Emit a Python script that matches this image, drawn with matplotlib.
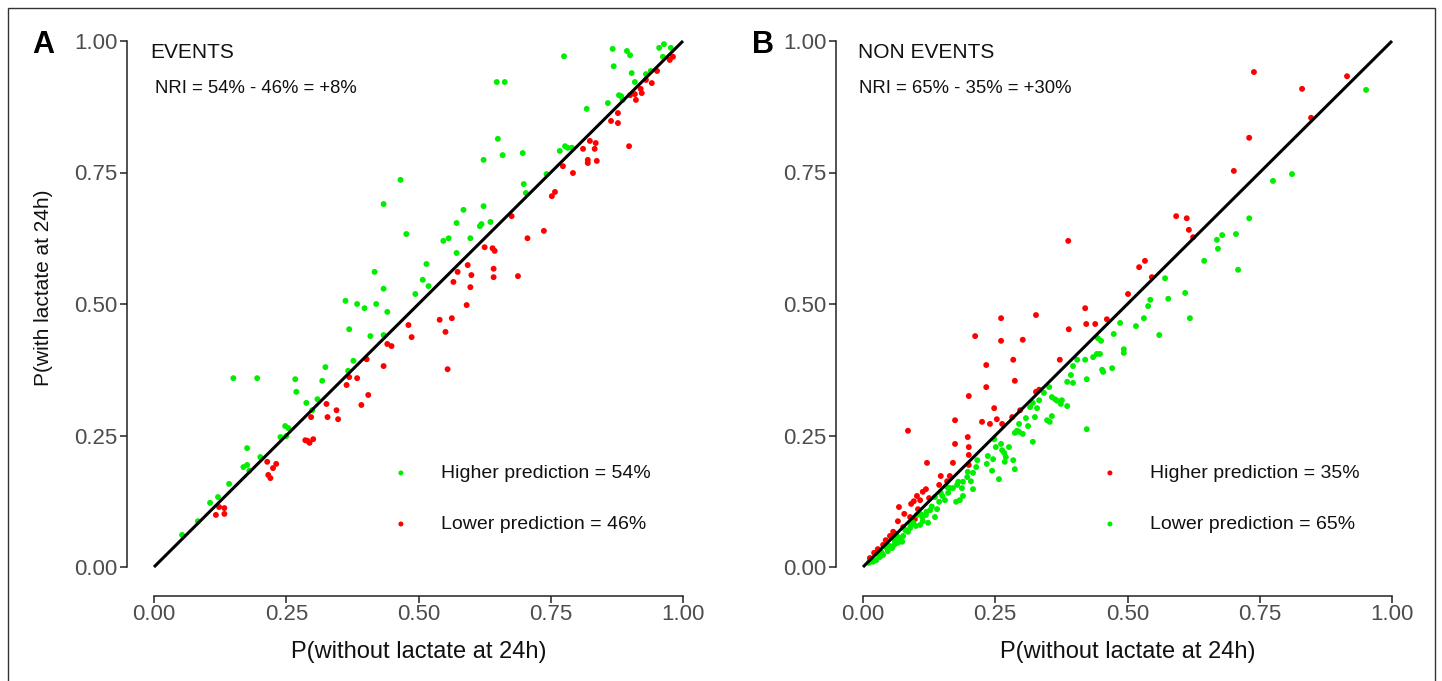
import matplotlib
matplotlib.use('Agg')
import matplotlib.pyplot as plt
from matplotlib.patches import Rectangle

plt.rcParams['font.family'] = ['Liberation Sans', 'DejaVu Sans']

GREEN = '#00EE00'
RED = '#FF0000'
GREY = '#4d4d4d'

ticks = [0.00, 0.25, 0.50, 0.75, 1.00]
tick_labels = ['0.00', '0.25', '0.50', '0.75', '1.00']
diag = [0.0, 1.0]

# ---------------- Panel A: EVENTS ----------------
a_green_x = [0.053, 0.083, 0.106, 0.121, 0.142, 0.150, 0.195, 0.169, 0.176, 0.176,
             0.180, 0.201, 0.239, 0.248, 0.254, 0.250, 0.267, 0.269, 0.288, 0.299,
             0.309, 0.318, 0.324, 0.362, 0.369, 0.377, 0.367, 0.384, 0.398, 0.409,
             0.420, 0.434, 0.441, 0.434, 0.417, 0.434, 0.466, 0.477, 0.494, 0.508,
             0.519, 0.515, 0.547, 0.557, 0.572, 0.585, 0.572, 0.598, 0.616, 0.619,
             0.623, 0.636, 0.623, 0.650, 0.659, 0.648, 0.663, 0.697, 0.699, 0.703,
             0.742, 0.767, 0.777, 0.782, 0.790, 0.775, 0.818, 0.858, 0.867, 0.869,
             0.879, 0.883, 0.886, 0.894, 0.900, 0.903, 0.909, 0.930, 0.939, 0.955,
             0.964, 0.977, 0.962]
a_green_y = [0.061, 0.087, 0.122, 0.133, 0.158, 0.359, 0.359, 0.190, 0.194, 0.226,
             0.183, 0.209, 0.247, 0.268, 0.264, 0.249, 0.357, 0.333, 0.312, 0.298,
             0.319, 0.354, 0.380, 0.506, 0.452, 0.392, 0.373, 0.500, 0.492, 0.439,
             0.500, 0.529, 0.485, 0.441, 0.561, 0.690, 0.736, 0.633, 0.519, 0.546,
             0.534, 0.576, 0.620, 0.625, 0.654, 0.679, 0.597, 0.625, 0.648, 0.652,
             0.686, 0.656, 0.774, 0.814, 0.783, 0.922, 0.922, 0.787, 0.728, 0.711,
             0.747, 0.791, 0.800, 0.797, 0.797, 0.971, 0.871, 0.882, 0.985, 0.952,
             0.897, 0.895, 0.888, 0.981, 0.973, 0.939, 0.922, 0.937, 0.943, 0.987,
             0.994, 0.987, 0.970]

a_red_x = [0.117, 0.123, 0.133, 0.133, 0.214, 0.225, 0.231, 0.216, 0.220, 0.286,
           0.290, 0.294, 0.301, 0.297, 0.326, 0.328, 0.345, 0.348, 0.364, 0.369,
           0.384, 0.402, 0.405, 0.392, 0.434, 0.441, 0.449, 0.481, 0.487, 0.566,
           0.598, 0.591, 0.563, 0.540, 0.551, 0.555, 0.574, 0.593, 0.600, 0.625,
           0.640, 0.644, 0.642, 0.642, 0.676, 0.688, 0.706, 0.737, 0.752, 0.758,
           0.773, 0.792, 0.811, 0.824, 0.835, 0.833, 0.820, 0.820, 0.837, 0.864,
           0.877, 0.877, 0.898, 0.900, 0.909, 0.911, 0.920, 0.922, 0.930, 0.941,
           0.951, 0.975, 0.981]
a_red_y = [0.099, 0.114, 0.112, 0.101, 0.200, 0.188, 0.196, 0.175, 0.169, 0.241,
           0.240, 0.236, 0.243, 0.285, 0.310, 0.285, 0.298, 0.281, 0.346, 0.361,
           0.359, 0.395, 0.327, 0.308, 0.382, 0.424, 0.420, 0.460, 0.437, 0.542,
           0.532, 0.498, 0.473, 0.470, 0.447, 0.376, 0.561, 0.574, 0.555, 0.608,
           0.606, 0.601, 0.567, 0.551, 0.667, 0.553, 0.625, 0.639, 0.705, 0.713,
           0.762, 0.749, 0.795, 0.810, 0.806, 0.795, 0.774, 0.768, 0.772, 0.848,
           0.844, 0.863, 0.800, 0.897, 0.899, 0.888, 0.909, 0.901, 0.926, 0.920,
           0.943, 0.964, 0.970]

# ---------------- Panel B: NON EVENTS ----------------
b_red_x = [0.739, 0.915, 0.830, 0.847, 0.730, 0.701, 0.592, 0.612, 0.616, 0.624,
           0.533, 0.522, 0.546, 0.501, 0.461, 0.388, 0.420, 0.422, 0.439, 0.389,
           0.327, 0.261, 0.261, 0.302, 0.212, 0.284, 0.233, 0.287, 0.233, 0.200,
           0.372, 0.333, 0.327, 0.297, 0.282, 0.248, 0.253, 0.225, 0.240, 0.263,
           0.174, 0.085, 0.198, 0.174, 0.200, 0.200, 0.121, 0.170, 0.200, 0.147,
           0.164, 0.159, 0.144, 0.119, 0.113, 0.102, 0.096, 0.108, 0.125, 0.091,
           0.068, 0.078, 0.089, 0.066, 0.098, 0.076, 0.057, 0.051, 0.043, 0.038,
           0.028, 0.021, 0.013, 0.060, 0.104]
b_red_y = [0.941, 0.933, 0.909, 0.854, 0.816, 0.753, 0.667, 0.663, 0.641, 0.627,
           0.582, 0.570, 0.551, 0.519, 0.471, 0.620, 0.492, 0.462, 0.462, 0.452,
           0.479, 0.473, 0.430, 0.432, 0.439, 0.394, 0.384, 0.354, 0.342, 0.325,
           0.394, 0.337, 0.333, 0.298, 0.285, 0.302, 0.281, 0.276, 0.272, 0.272,
           0.279, 0.259, 0.247, 0.234, 0.228, 0.213, 0.198, 0.198, 0.194, 0.173,
           0.173, 0.163, 0.156, 0.148, 0.143, 0.135, 0.125, 0.127, 0.131, 0.120,
           0.114, 0.101, 0.095, 0.087, 0.091, 0.076, 0.067, 0.059, 0.051, 0.042,
           0.034, 0.027, 0.017, 0.064, 0.110]

b_green_x = [0.951, 0.811, 0.775, 0.730, 0.705, 0.679, 0.669, 0.671, 0.645, 0.709,
             0.571, 0.609, 0.543, 0.577, 0.539, 0.531, 0.618, 0.486, 0.516, 0.474,
             0.560, 0.450, 0.493, 0.493, 0.448, 0.452, 0.454, 0.471, 0.444, 0.442,
             0.435, 0.420, 0.405, 0.397, 0.393, 0.423, 0.386, 0.397, 0.352, 0.342,
             0.333, 0.321, 0.329, 0.316, 0.357, 0.363, 0.367, 0.376, 0.374, 0.386,
             0.357, 0.348, 0.353, 0.325, 0.308, 0.295, 0.312, 0.291, 0.287, 0.302,
             0.295, 0.321, 0.423, 0.248, 0.261, 0.251, 0.276, 0.267, 0.263, 0.270,
             0.284, 0.268, 0.236, 0.246, 0.234, 0.287, 0.244, 0.257, 0.216, 0.214,
             0.208, 0.198, 0.197, 0.204, 0.208, 0.189, 0.187, 0.180, 0.178, 0.189,
             0.183, 0.176, 0.164, 0.161, 0.159, 0.147, 0.155, 0.144, 0.136, 0.140,
             0.136, 0.127, 0.119, 0.112, 0.113, 0.108, 0.100, 0.095, 0.089, 0.085,
             0.076, 0.070, 0.074, 0.066, 0.059, 0.055, 0.047, 0.038, 0.032, 0.025,
             0.019, 0.011, 0.102, 0.123, 0.015, 0.030, 0.045, 0.060, 0.080, 0.090,
             0.050, 0.110, 0.130, 0.150, 0.170, 0.035, 0.065, 0.120]
b_green_y = [0.907, 0.747, 0.734, 0.663, 0.633, 0.631, 0.622, 0.605, 0.582, 0.565,
             0.549, 0.521, 0.508, 0.510, 0.496, 0.473, 0.473, 0.464, 0.458, 0.443,
             0.441, 0.430, 0.414, 0.407, 0.405, 0.375, 0.371, 0.378, 0.435, 0.405,
             0.399, 0.394, 0.394, 0.382, 0.365, 0.357, 0.352, 0.350, 0.342, 0.331,
             0.317, 0.312, 0.302, 0.304, 0.323, 0.319, 0.316, 0.317, 0.310, 0.306,
             0.287, 0.279, 0.276, 0.285, 0.283, 0.272, 0.268, 0.259, 0.255, 0.253,
             0.257, 0.238, 0.262, 0.243, 0.234, 0.228, 0.228, 0.217, 0.222, 0.209,
             0.203, 0.200, 0.211, 0.205, 0.196, 0.186, 0.183, 0.167, 0.203, 0.190,
             0.179, 0.181, 0.171, 0.163, 0.148, 0.162, 0.150, 0.162, 0.156, 0.135,
             0.127, 0.124, 0.150, 0.141, 0.152, 0.141, 0.127, 0.124, 0.133, 0.110,
             0.095, 0.108, 0.099, 0.095, 0.087, 0.080, 0.078, 0.084, 0.074, 0.067,
             0.059, 0.055, 0.048, 0.046, 0.042, 0.036, 0.030, 0.023, 0.019, 0.013,
             0.010, 0.008, 0.099, 0.084, 0.012, 0.022, 0.036, 0.050, 0.070, 0.080,
             0.040, 0.100, 0.115, 0.135, 0.150, 0.028, 0.058, 0.105]

panels = [
    dict(letter='A', title='EVENTS', nri='NRI = 54% - 46% = +8%',
         title_dx=-0.008, nri_dx=0.002,
         series=[(a_green_x, a_green_y, GREEN, 'Higher prediction = 54%'),
                 (a_red_x, a_red_y, RED, 'Lower prediction = 46%')]),
    dict(letter='B', title='NON EVENTS', nri='NRI = 65% - 35% = +30%',
         title_dx=-0.009, nri_dx=-0.007,
         series=[(b_red_x, b_red_y, RED, 'Higher prediction = 35%'),
                 (b_green_x, b_green_y, GREEN, 'Lower prediction = 65%')]),
]

W, H = 1442, 681
fig = plt.figure(figsize=(W / 100, H / 100), dpi=100)
fig.patch.set_facecolor('white')

# outer frame
fig.add_artist(Rectangle((8 / W, -0.02), (1435 - 8) / W, 1 - 8 / H + 0.02,
                         transform=fig.transFigure, fill=False,
                         edgecolor='#333333', linewidth=1.0))

lefts = [154, 863]
letter_x = [32, 752]
for p, lpx, lx in zip(panels, lefts, letter_x):
    ax = fig.add_axes([lpx / W, (H - 567) / H, 529 / W, 526 / H])
    ax.set_xlim(0, 1)
    ax.set_ylim(0, 1)
    ax.patch.set_alpha(0)
    for s in ['top', 'right']:
        ax.spines[s].set_visible(False)
    ax.spines['left'].set_position(('outward', 27 * 0.72))
    ax.spines['bottom'].set_position(('outward', 29 * 0.72))
    for s in ['left', 'bottom']:
        ax.spines[s].set_bounds(0, 1)
        ax.spines[s].set_linewidth(1.1)
        ax.spines[s].set_color('#222222')
    ax.set_xticks(ticks)
    ax.set_xticklabels(tick_labels)
    ax.set_yticks(ticks)
    ax.set_yticklabels(tick_labels)
    ax.tick_params(axis='both', direction='out', length=5, width=1.1,
                   color='#222222', labelsize=16, labelcolor=GREY)
    ax.tick_params(axis='x', pad=1)
    ax.tick_params(axis='y', pad=2)

    for xs, ys, col, lab in p['series']:
        ax.scatter(xs, ys, s=18, color=col, edgecolors='none', label=lab,
                   clip_on=False, zorder=3)
    ax.plot(diag, diag, color='black', linewidth=2.2, clip_on=False, zorder=4,
            solid_capstyle='butt')

    ax.set_xlabel('P(without lactate at 24h)', fontsize=17, color='#111111')
    ax.xaxis.set_label_coords(0.5, -0.14)
    if p['letter'] == 'A':
        ax.set_ylabel('P(with lactate at 24h)', fontsize=15, color='#111111')
        ax.yaxis.set_label_coords(-0.19, 0.53)

    ax.text(p['title_dx'], 0.979, p['title'], transform=ax.transAxes, fontsize=15,
            ha='left', va='center', color='#111111')
    ax.text(p['nri_dx'], 0.909, p['nri'], transform=ax.transAxes, fontsize=13.3,
            ha='left', va='center', color='#111111')

    leg = ax.legend(loc='upper left', bbox_to_anchor=(0.43, 0.195),
                    frameon=False, fontsize=14, markerscale=0.85,
                    handlelength=2.0, handletextpad=1.05, labelspacing=1.72,
                    borderaxespad=0, borderpad=0, scatterpoints=1)
    for t in leg.get_texts():
        t.set_color('#111111')

    fig.text(lx / W, 1 - 45 / H, p['letter'], fontsize=22, fontweight='bold',
             ha='left', va='center', color='black')

fig.savefig('out.png', dpi=100)
